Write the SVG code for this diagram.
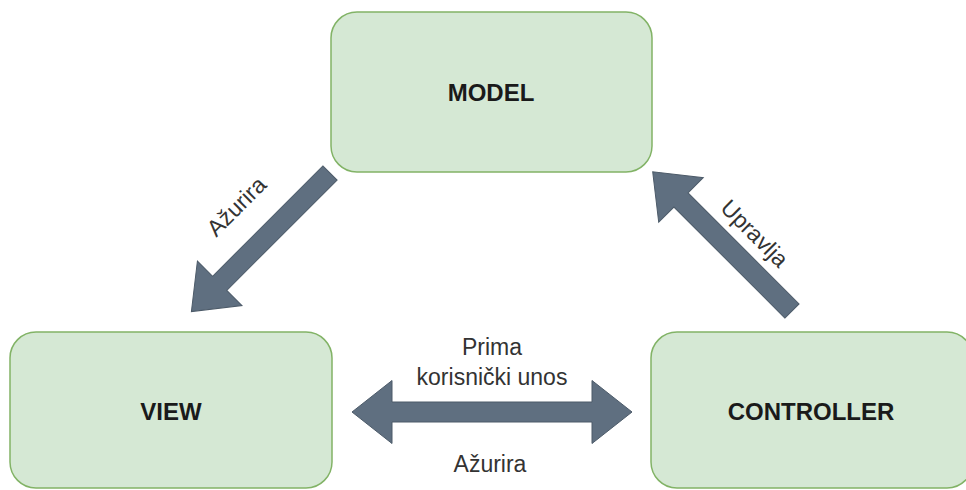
<svg xmlns="http://www.w3.org/2000/svg" width="966" height="490" viewBox="0 0 966 490">
<style>
.node{fill:#d5e8d4;stroke:#82b366;stroke-width:1.5}
.title{font-family:"Liberation Sans",Arial,sans-serif;font-size:24px;font-weight:bold;fill:#1a1a1a;text-anchor:middle;dominant-baseline:central}
.arrow{fill:#5f6f80;stroke:#4d5b69;stroke-width:1}
.lbl{font-family:"Liberation Sans",Arial,sans-serif;font-size:23px;fill:#333333;text-anchor:middle}
</style>
<rect width="966" height="490" fill="#ffffff"/>
<g id="model">
<rect class="node" x="331" y="12" width="321" height="160" rx="26" ry="26"/>
<text class="title" x="491" y="92">MODEL</text>
</g>
<g id="view">
<rect class="node" x="10" y="332" width="322" height="156" rx="26" ry="26"/>
<text class="title" x="171" y="411">VIEW</text>
</g>
<g id="controller">
<rect class="node" x="651" y="332" width="322" height="156" rx="26" ry="26"/>
<text class="title" x="811" y="411">CONTROLLER</text>
</g>
<g id="connectors">
<!-- MODEL -> VIEW -->
<g transform="translate(330,173) rotate(135)">
<polygon class="arrow" points="0,-10 156,-10 156,-31.5 196,0 156,31.5 156,10 0,10"/>
</g>
<text class="lbl" transform="translate(242,212) rotate(-45)">Ažurira</text>
<!-- CONTROLLER -> MODEL -->
<g transform="translate(792,311) rotate(-135)">
<polygon class="arrow" points="0,-10 157,-10 157,-31.5 197,0 157,31.5 157,10 0,10"/>
</g>
<text class="lbl" transform="translate(749,239) rotate(45)">Upravlja</text>
<!-- VIEW <-> CONTROLLER -->
<polygon class="arrow" points="352,412 392,380.5 392,402 592,402 592,380.5 632,412 592,443.5 592,422 392,422 392,443.5"/>
<text class="lbl" x="492" y="355">Prima</text>
<text class="lbl" x="492" y="385">korisnički unos</text>
<text class="lbl" x="490" y="472">Ažurira</text>
</g>
</svg>
